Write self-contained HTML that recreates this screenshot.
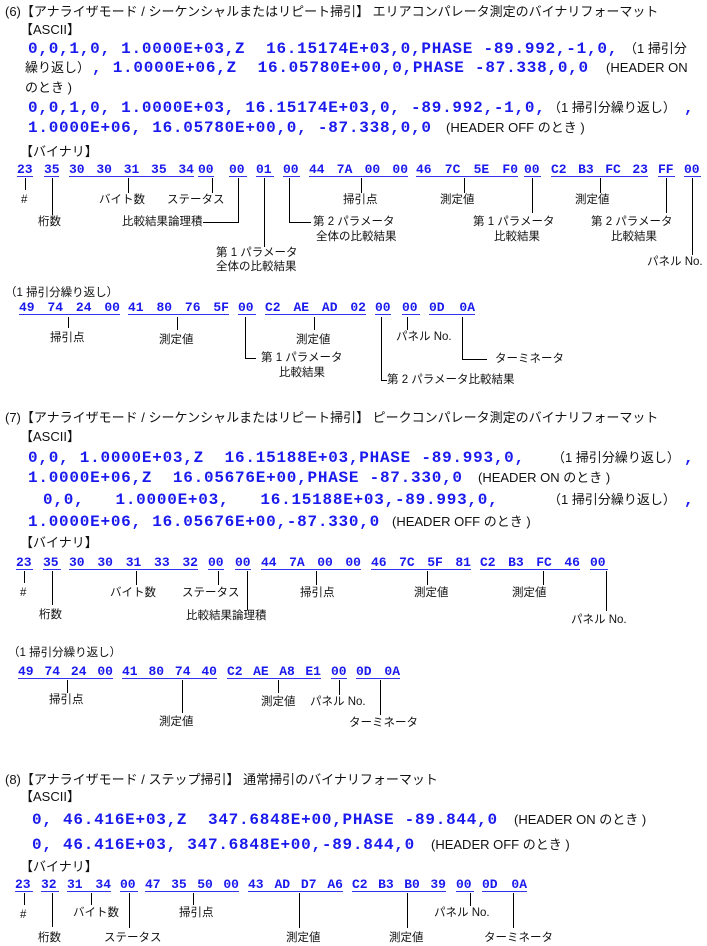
<!DOCTYPE html>
<html><head><meta charset="utf-8">
<style>
html,body{margin:0;padding:0;background:#fff;}
body{width:707px;height:946px;position:relative;overflow:hidden;font-family:"Liberation Sans","Noto Sans CJK JP",sans-serif;color:#111;}
.t{position:absolute;white-space:pre;font-size:13px;line-height:16px;}
.l{position:absolute;white-space:pre;font-size:11.5px;line-height:16px;}
.m{position:absolute;white-space:pre;font-family:"Liberation Mono",monospace;font-weight:bold;color:#1a1aee;font-size:16px;letter-spacing:0.75px;line-height:18px;}
.h{position:absolute;display:flex;justify-content:space-between;font-family:"Liberation Mono",monospace;font-weight:bold;color:#1a1aee;font-size:13px;line-height:12px;height:12px;border-bottom:1px solid #3333ee;}
svg{position:absolute;left:0;top:0;}
</style></head><body>

<!-- Section 6 -->
<div class="t" style="left:5px;top:4px">(6)【アナライザモード / シーケンシャルまたはリピート掃引】 エリアコンパレータ測定のバイナリフォーマット</div>
<div class="t" style="left:20px;top:22px">【ASCII】</div>
<div class="m" style="left:28px;top:40px">0,0,1,0, 1.0000E+03,Z  16.15174E+03,0,PHASE -89.992,-1,0,</div>
<div class="t" style="left:624px;top:41px">（1 掃引分</div>
<div class="t" style="left:25px;top:60px">繰り返し）</div>
<div class="m" style="left:92px;top:59px">, 1.0000E+06,Z  16.05780E+00,0,PHASE -87.338,0,0</div>
<div class="t" style="left:606px;top:60px">(HEADER ON</div>
<div class="t" style="left:25px;top:80px">のとき )</div>
<div class="m" style="left:28px;top:99px">0,0,1,0, 1.0000E+03, 16.15174E+03,0, -89.992,-1,0,</div>
<div class="t" style="left:548px;top:100px">（1 掃引分繰り返し）</div>
<div class="m" style="left:684px;top:99px">,</div>
<div class="m" style="left:28px;top:119px">1.0000E+06, 16.05780E+00,0, -87.338,0,0</div>
<div class="t" style="left:446px;top:120px">(HEADER OFF のとき )</div>
<div class="t" style="left:20px;top:144px">【バイナリ】</div>

<div class="h" style="left:17px;top:164px;width:16px"><span>23</span></div>
<div class="h" style="left:44px;top:164px;width:15px"><span>35</span></div>
<div class="h" style="left:69px;top:164px;width:125px"><span>30</span><span>30</span><span>31</span><span>35</span><span>34</span></div>
<div class="h" style="left:198px;top:164px;width:16px"><span>00</span></div>
<div class="h" style="left:229px;top:164px;width:18px"><span>00</span></div>
<div class="h" style="left:256px;top:164px;width:18px"><span>01</span></div>
<div class="h" style="left:283px;top:164px;width:17px"><span>00</span></div>
<div class="h" style="left:309px;top:164px;width:99px"><span>44</span><span>7A</span><span>00</span><span>00</span></div>
<div class="h" style="left:416px;top:164px;width:102px"><span>46</span><span>7C</span><span>5E</span><span>F0</span></div>
<div class="h" style="left:524px;top:164px;width:17px"><span>00</span></div>
<div class="h" style="left:551px;top:164px;width:97px"><span>C2</span><span>B3</span><span>FC</span><span>23</span></div>
<div class="h" style="left:658px;top:164px;width:17px"><span>FF</span></div>
<div class="h" style="left:684px;top:164px;width:17px"><span>00</span></div>

<div class="l" style="left:21px;top:192px">#</div>
<div class="l" style="left:38px;top:214px">桁数</div>
<div class="l" style="left:99px;top:192px">バイト数</div>
<div class="l" style="left:167px;top:192px">ステータス</div>
<div class="l" style="left:122px;top:214px">比較結果論理積</div>
<div class="l" style="left:216px;top:245px">第 1 パラメータ</div>
<div class="l" style="left:216px;top:259px">全体の比較結果</div>
<div class="l" style="left:313px;top:214px">第 2 パラメータ</div>
<div class="l" style="left:316px;top:229px">全体の比較結果</div>
<div class="l" style="left:343px;top:192px">掃引点</div>
<div class="l" style="left:440px;top:192px">測定値</div>
<div class="l" style="left:473px;top:214px">第 1 パラメータ</div>
<div class="l" style="left:494px;top:229px">比較結果</div>
<div class="l" style="left:575px;top:192px">測定値</div>
<div class="l" style="left:591px;top:214px">第 2 パラメータ</div>
<div class="l" style="left:611px;top:229px">比較結果</div>
<div class="l" style="left:647px;top:254px">パネル No.</div>

<div class="l" style="left:5px;top:285px">（1 掃引分繰り返し）</div>
<div class="h" style="left:19px;top:302px;width:101px"><span>49</span><span>74</span><span>24</span><span>00</span></div>
<div class="h" style="left:128px;top:302px;width:101px"><span>41</span><span>80</span><span>76</span><span>5F</span></div>
<div class="h" style="left:238px;top:302px;width:18px"><span>00</span></div>
<div class="h" style="left:265px;top:302px;width:101px"><span>C2</span><span>AE</span><span>AD</span><span>02</span></div>
<div class="h" style="left:375px;top:302px;width:16px"><span>00</span></div>
<div class="h" style="left:402px;top:302px;width:18px"><span>00</span></div>
<div class="h" style="left:429px;top:302px;width:46px"><span>0D</span><span>0A</span></div>
<div class="l" style="left:50px;top:330px">掃引点</div>
<div class="l" style="left:159px;top:332px">測定値</div>
<div class="l" style="left:261px;top:350px">第 1 パラメータ</div>
<div class="l" style="left:279px;top:365px">比較結果</div>
<div class="l" style="left:296px;top:332px">測定値</div>
<div class="l" style="left:387px;top:372px">第 2 パラメータ比較結果</div>
<div class="l" style="left:396px;top:329px">パネル No.</div>
<div class="l" style="left:495px;top:351px">ターミネータ</div>

<!-- Section 7 -->
<div class="t" style="left:5px;top:410px">(7)【アナライザモード / シーケンシャルまたはリピート掃引】 ピークコンパレータ測定のバイナリフォーマット</div>
<div class="t" style="left:20px;top:429px">【ASCII】</div>
<div class="m" style="left:28px;top:449px">0,0, 1.0000E+03,Z  16.15188E+03,PHASE -89.993,0,</div>
<div class="t" style="left:552px;top:450px">（1 掃引分繰り返し）</div>
<div class="m" style="left:684px;top:449px">,</div>
<div class="m" style="left:28px;top:469px">1.0000E+06,Z  16.05676E+00,PHASE -87.330,0</div>
<div class="t" style="left:478px;top:470px">(HEADER ON のとき )</div>
<div class="m" style="left:43px;top:491px">0,0,   1.0000E+03,   16.15188E+03,-89.993,0,</div>
<div class="t" style="left:548px;top:492px">（1 掃引分繰り返し）</div>
<div class="m" style="left:684px;top:491px">,</div>
<div class="m" style="left:28px;top:513px">1.0000E+06, 16.05676E+00,-87.330,0</div>
<div class="t" style="left:392px;top:514px">(HEADER OFF のとき )</div>
<div class="t" style="left:20px;top:535px">【バイナリ】</div>

<div class="h" style="left:16px;top:557px;width:17px"><span>23</span></div>
<div class="h" style="left:43px;top:557px;width:18px"><span>35</span></div>
<div class="h" style="left:69px;top:557px;width:129px"><span>30</span><span>30</span><span>31</span><span>33</span><span>32</span></div>
<div class="h" style="left:208px;top:557px;width:16px"><span>00</span></div>
<div class="h" style="left:235px;top:557px;width:16px"><span>00</span></div>
<div class="h" style="left:261px;top:557px;width:100px"><span>44</span><span>7A</span><span>00</span><span>00</span></div>
<div class="h" style="left:371px;top:557px;width:100px"><span>46</span><span>7C</span><span>5F</span><span>81</span></div>
<div class="h" style="left:480px;top:557px;width:100px"><span>C2</span><span>B3</span><span>FC</span><span>46</span></div>
<div class="h" style="left:590px;top:557px;width:18px"><span>00</span></div>
<div class="l" style="left:20px;top:585px">#</div>
<div class="l" style="left:39px;top:607px">桁数</div>
<div class="l" style="left:110px;top:585px">バイト数</div>
<div class="l" style="left:182px;top:585px">ステータス</div>
<div class="l" style="left:186px;top:608px">比較結果論理積</div>
<div class="l" style="left:300px;top:585px">掃引点</div>
<div class="l" style="left:414px;top:585px">測定値</div>
<div class="l" style="left:512px;top:585px">測定値</div>
<div class="l" style="left:571px;top:612px">パネル No.</div>

<div class="l" style="left:8px;top:645px">（1 掃引分繰り返し）</div>
<div class="h" style="left:18px;top:666px;width:95px"><span>49</span><span>74</span><span>24</span><span>00</span></div>
<div class="h" style="left:122px;top:666px;width:95px"><span>41</span><span>80</span><span>74</span><span>40</span></div>
<div class="h" style="left:227px;top:666px;width:94px"><span>C2</span><span>AE</span><span>A8</span><span>E1</span></div>
<div class="h" style="left:331px;top:666px;width:16px"><span>00</span></div>
<div class="h" style="left:356px;top:666px;width:44px"><span>0D</span><span>0A</span></div>
<div class="l" style="left:49px;top:692px">掃引点</div>
<div class="l" style="left:159px;top:714px">測定値</div>
<div class="l" style="left:261px;top:694px">測定値</div>
<div class="l" style="left:310px;top:694px">パネル No.</div>
<div class="l" style="left:349px;top:715px">ターミネータ</div>

<!-- Section 8 -->
<div class="t" style="left:5px;top:772px">(8)【アナライザモード / ステップ掃引】 通常掃引のバイナリフォーマット</div>
<div class="t" style="left:20px;top:789px">【ASCII】</div>
<div class="m" style="left:32px;top:811px">0, 46.416E+03,Z  347.6848E+00,PHASE -89.844,0</div>
<div class="t" style="left:514px;top:812px">(HEADER ON のとき )</div>
<div class="m" style="left:32px;top:836px">0, 46.416E+03, 347.6848E+00,-89.844,0</div>
<div class="t" style="left:431px;top:837px">(HEADER OFF のとき )</div>
<div class="t" style="left:20px;top:859px">【バイナリ】</div>

<div class="h" style="left:15px;top:879px;width:18px"><span>23</span></div>
<div class="h" style="left:41px;top:879px;width:18px"><span>32</span></div>
<div class="h" style="left:67px;top:879px;width:44px"><span>31</span><span>34</span></div>
<div class="h" style="left:120px;top:879px;width:18px"><span>00</span></div>
<div class="h" style="left:145px;top:879px;width:94px"><span>47</span><span>35</span><span>50</span><span>00</span></div>
<div class="h" style="left:248px;top:879px;width:95px"><span>43</span><span>AD</span><span>D7</span><span>A6</span></div>
<div class="h" style="left:352px;top:879px;width:94px"><span>C2</span><span>B3</span><span>B0</span><span>39</span></div>
<div class="h" style="left:456px;top:879px;width:18px"><span>00</span></div>
<div class="h" style="left:482px;top:879px;width:45px"><span>0D</span><span>0A</span></div>
<div class="l" style="left:20px;top:907px">#</div>
<div class="l" style="left:38px;top:930px">桁数</div>
<div class="l" style="left:73px;top:905px">バイト数</div>
<div class="l" style="left:104px;top:930px">ステータス</div>
<div class="l" style="left:179px;top:905px">掃引点</div>
<div class="l" style="left:286px;top:930px">測定値</div>
<div class="l" style="left:389px;top:930px">測定値</div>
<div class="l" style="left:434px;top:905px">パネル No.</div>
<div class="l" style="left:484px;top:930px">ターミネータ</div>

<svg width="707" height="946" viewBox="0 0 707 946" stroke="#000" stroke-width="1" fill="none">
<path d="M25.5 178V190M52.5 178V215M128.5 178V193M212.5 178V193M238.5 178V222.5H203M264.5 178V247M289.5 178V222.5H311M361.5 178V193M464.5 178V193M532.5 178V213M600.5 178V193M666.5 178V213M692.5 178V255"/>
<path d="M68.5 317V328M177.5 317V330M245.5 317V358.5H256M314.5 317V330M381.5 317V380.5H387M407.5 317V330M462.5 317V359.5H487"/>
<path d="M24.5 571V583M52.5 571V605M136.5 571V585M218.5 571V585M247.5 571V610M316.5 571V585M427.5 571V585M543.5 571V585M606.5 571V611"/>
<path d="M67.5 680V693M182.5 680V713M278.5 680V693M339.5 680V695M380.5 680V715"/>
<path d="M24.5 893V905M52.5 893V927M91.5 893V905M129.5 893V928M193.5 893V905M299.5 893V928M407.5 893V928M470.5 893V906M513.5 893V928"/>
</svg>
</body></html>
